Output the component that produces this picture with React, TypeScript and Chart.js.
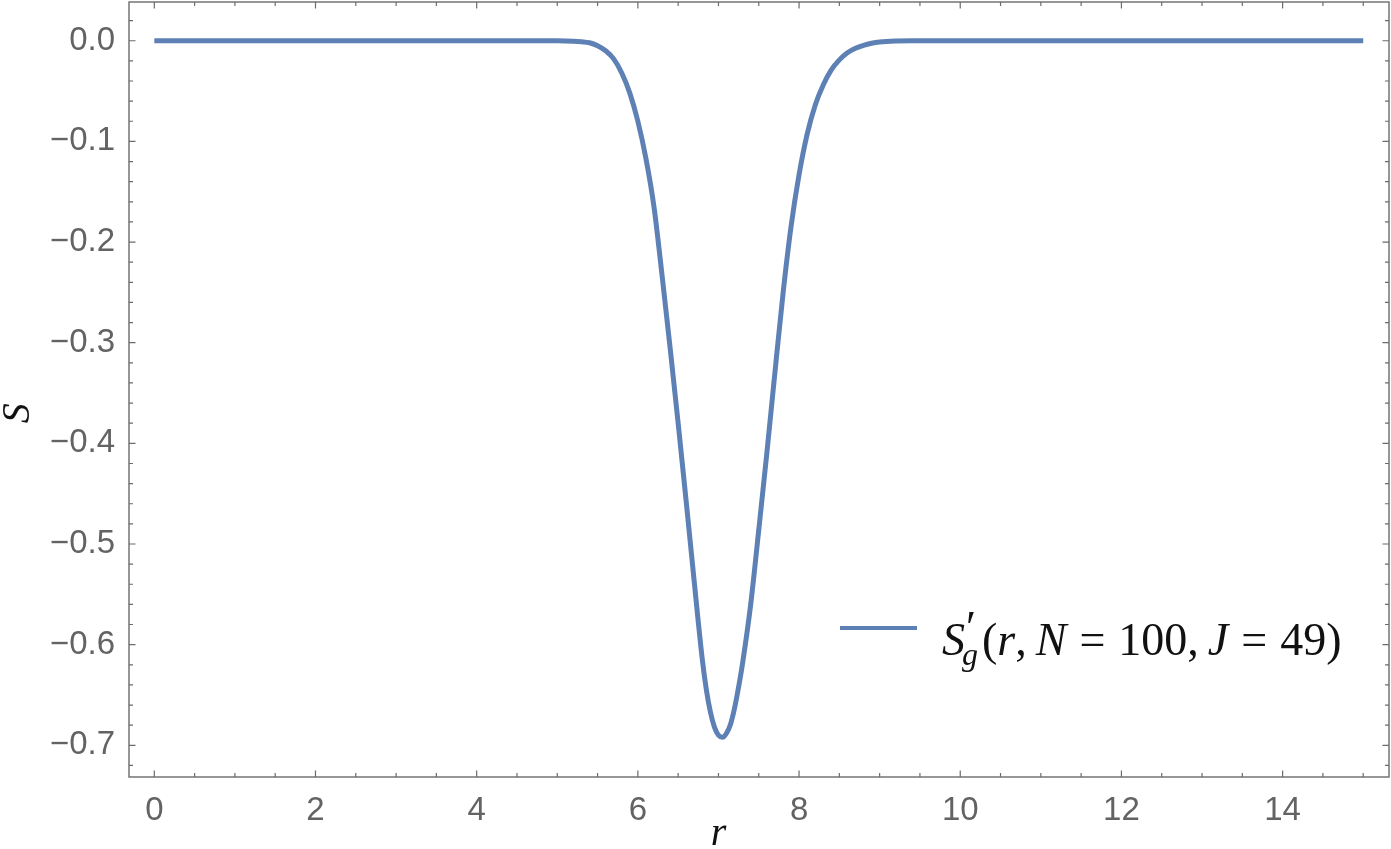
import React, { useEffect, useRef } from "react";
import { Chart, registerables } from "chart.js";

Chart.register(...registerables);

const rValues = [0, 1, 2, 3, 4, 5, 5.2, 5.3, 5.4, 5.5, 5.6, 5.7, 5.8, 5.9, 6.0, 6.1, 6.2, 6.3, 6.4, 6.5, 6.6, 6.7, 6.8, 6.85, 6.9, 6.95, 7.0, 7.05, 7.1, 7.15, 7.2, 7.25, 7.3, 7.4, 7.5, 7.6, 7.7, 7.8, 7.9, 8.0, 8.1, 8.2, 8.3, 8.4, 8.5, 8.6, 8.7, 8.8, 8.9, 9.0, 9.2, 9.4, 10, 11, 12, 13, 14, 15];
const sValues = [0, 0, 0, 0, 0, 0, -0.0004, -0.001, -0.002, -0.005, -0.01, -0.018, -0.032, -0.052, -0.08, -0.117, -0.165, -0.233, -0.305, -0.38, -0.458, -0.538, -0.615, -0.645, -0.667, -0.682, -0.69, -0.692, -0.688, -0.679, -0.663, -0.642, -0.618, -0.56, -0.486, -0.41, -0.33, -0.252, -0.185, -0.133, -0.093, -0.064, -0.044, -0.029, -0.019, -0.012, -0.0075, -0.0045, -0.0025, -0.0013, -0.0003, 0, 0, 0, 0, 0, 0, 0];

const xTicks = [0, 2, 4, 6, 8, 10, 12, 14];
const yTicks = [0, -0.1, -0.2, -0.3, -0.4, -0.5, -0.6, -0.7];
const xMinorStep = 0.5;
const yMinorStep = 0.02;

const X_MIN = -0.314;
const X_MAX = 15.32;
const Y_MIN = -0.7315;
const Y_MAX = 0.0385;

const LINE_COLOR = "#5E81B5";
const FRAME_COLOR = "#6b6b6b";
const LABEL_COLOR = "#636363";

const framePlugin = {
  id: "frame",
  afterDraw(chart: any) {
    const { ctx, chartArea } = chart;
    const xs = chart.scales.x;
    const ys = chart.scales.y;
    const { left, right, top, bottom } = chartArea;
    ctx.save();
    ctx.strokeStyle = FRAME_COLOR;
    ctx.lineWidth = 1.4;
    ctx.strokeRect(left, top, right - left, bottom - top);
    const major = 6.5;
    const minor = 4;
    ctx.lineWidth = 1.2;
    ctx.beginPath();
    for (let i = Math.ceil(X_MIN / xMinorStep); i * xMinorStep <= X_MAX; i++) {
      const v = i * xMinorStep;
      const isMajor = xTicks.some((t) => Math.abs(t - v) < 1e-9);
      const len = isMajor ? major : minor;
      const px = xs.getPixelForValue(v);
      ctx.moveTo(px, bottom);
      ctx.lineTo(px, bottom - len);
      ctx.moveTo(px, top);
      ctx.lineTo(px, top + len);
    }
    for (let i = Math.ceil(Y_MIN / yMinorStep); i * yMinorStep <= Y_MAX; i++) {
      const v = i * yMinorStep;
      const isMajor = yTicks.some((t) => Math.abs(t - v) < 1e-9);
      const len = isMajor ? major : minor;
      const py = ys.getPixelForValue(v);
      ctx.moveTo(left, py);
      ctx.lineTo(left + len, py);
      ctx.moveTo(right, py);
      ctx.lineTo(right - len, py);
    }
    ctx.stroke();

    // axis labels
    ctx.fillStyle = "#111";
    ctx.font = "italic 40px 'Liberation Serif', serif";
    ctx.textAlign = "center";
    ctx.textBaseline = "alphabetic";
    ctx.fillText("r", xs.getPixelForValue(7), 845);
    ctx.save();
    ctx.translate(29, ys.getPixelForValue(-0.37));
    ctx.rotate(-Math.PI / 2);
    ctx.fillText("S", 0, 0);
    ctx.restore();

    // legend
    const ly = 628;
    ctx.strokeStyle = LINE_COLOR;
    ctx.lineWidth = 4;
    ctx.beginPath();
    ctx.moveTo(840, ly);
    ctx.lineTo(917, ly);
    ctx.stroke();

    const base = 655;
    const fs = 46;
    let x = 942;
    ctx.textAlign = "left";
    const seg = (t: string, italic: boolean, size = fs, dy = 0, advance = true) => {
      ctx.font = `${italic ? "italic " : ""}${size}px 'Liberation Serif', serif`;
      ctx.fillText(t, x, base + dy);
      const w = ctx.measureText(t).width;
      if (advance) x += w;
      return w;
    };
    seg("S", true);
    const sx = x;
    x = sx + 1;
    seg("\u2032", false, 46, -12, false);
    x = sx - 3;
    seg("g", true, 32, 10);
    x += 4;
    seg("(", false);
    seg("r", true);
    seg(",", false);
    x += 9;
    seg("N", true);
    x += 13;
    seg("=", false);
    x += 13;
    seg("100", false);
    seg(",", false);
    x += 9;
    seg("J", true);
    x += 13;
    seg("=", false);
    x += 13;
    seg("49", false);
    seg(")", false);
    ctx.restore();
  },
};

export default function App() {
  const ref = useRef<HTMLCanvasElement>(null);
  useEffect(() => {
    document.body.style.margin = "0";
    const points = rValues.map((r, i) => ({ x: r, y: sValues[i] }));
    const fmtY = (v: number) => {
      const s = Math.abs(v).toFixed(1);
      return v < -1e-9 ? "\u2212" + s : s;
    };
    const chart = new Chart(ref.current as HTMLCanvasElement, {
      type: "line",
      data: {
        datasets: [
          {
            data: points,
            borderColor: LINE_COLOR,
            borderWidth: 5,
            pointRadius: 0,
            fill: false,
            cubicInterpolationMode: "monotone",
          } as any,
        ],
      },
      options: {
        animation: false,
        responsive: false,
        layout: { padding: { top: 2, right: 2, left: 0, bottom: 0 } },
        plugins: { legend: { display: false }, tooltip: { enabled: false } },
        scales: {
          x: {
            type: "linear",
            min: X_MIN,
            max: X_MAX,
            grid: { display: false, drawTicks: false },
            border: { display: false },
            afterBuildTicks: (axis: any) => {
              axis.ticks = xTicks.map((v) => ({ value: v }));
            },
            afterFit: (axis: any) => {
              axis.height = 72;
              axis.paddingLeft = 0;
              axis.paddingRight = 0;
            },
            ticks: {
              color: LABEL_COLOR,
              font: { family: "'Liberation Sans', Arial, sans-serif", size: 33 },
              padding: 14,
              maxRotation: 0,
              autoSkip: false,
              callback: (v: any) => String(v),
            },
          },
          y: {
            type: "linear",
            min: Y_MIN,
            max: Y_MAX,
            grid: { display: false, drawTicks: false },
            border: { display: false },
            afterBuildTicks: (axis: any) => {
              axis.ticks = yTicks.map((v) => ({ value: v }));
            },
            afterFit: (axis: any) => {
              axis.width = 129;
              axis.paddingTop = 0;
              axis.paddingBottom = 0;
            },
            ticks: {
              color: LABEL_COLOR,
              font: { family: "'Liberation Sans', Arial, sans-serif", size: 33 },
              padding: 14,
              autoSkip: false,
              callback: (v: any) => fmtY(Number(v)),
            },
          },
        },
      },
      plugins: [framePlugin],
    });
    return () => chart.destroy();
  }, []);
  return (
    <div style={{ position: "absolute", left: 0, top: 0, width: 1391, height: 849, background: "#fff" }}>
      <canvas ref={ref} width={1391} height={849} style={{ display: "block" }} />
    </div>
  );
}
